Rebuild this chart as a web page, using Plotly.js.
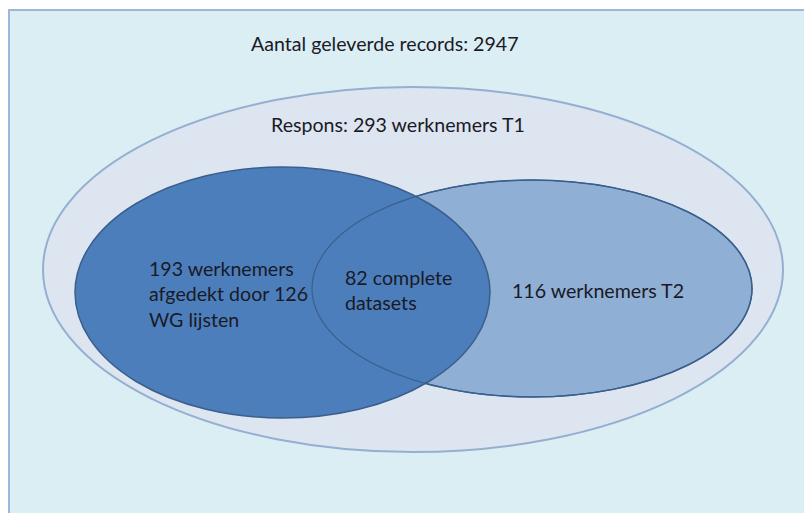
<!DOCTYPE html>
<html><head><meta charset="utf-8">
<script src="https://cdn.plot.ly/plotly-3.0.1.min.js"></script>
<style>html,body{margin:0;padding:0;background:#fff;}#chart{width:804px;height:513px;}</style>
</head><body><div id="chart"></div>
<script>
// Data values
const setNames = ["Aantal geleverde records", "Respons T1", "Werknemers T1 afgedekt", "WG lijsten", "Werknemers T2", "Complete datasets"];
const setCounts = [2947, 293, 193, 126, 116, 82];

const labels = [
  "Aantal geleverde records: " + setCounts[0],
  "Respons: " + setCounts[1] + " werknemers T1",
  setCounts[2] + " werknemers<br>afgedekt door " + setCounts[3] + "<br>WG lijsten",
  setCounts[5] + " complete<br>datasets",
  setCounts[4] + " werknemers T2"
];

const F = "Lato, 'Open Sans', sans-serif";
const txtColor = "#1a1a26";

const shapes = [
  {type:"rect", x0:9, x1:820, y0:10, y1:530, fillcolor:"#DBEEF4", line:{color:"#9DB6D9", width:2}, layer:"below"},
  {type:"circle", x0:43, x1:783, y0:87, y1:452, fillcolor:"#DDE5F1", line:{color:"#94AFD0", width:2}},
  {type:"circle", x0:312, x1:752, y0:180, y1:397, fillcolor:"#8FAFD5", line:{color:"#3A5F8C", width:1.5}},
  {type:"circle", x0:75, x1:490, y0:167, y1:418, fillcolor:"rgba(76,126,188,1)", line:{color:"#3A5F8C", width:1.5}},
  {type:"circle", x0:312, x1:752, y0:180, y1:397, fillcolor:"rgba(0,0,0,0)", line:{color:"#3A5F8C", width:1.2}}
];

const annotations = [
  {x:385, y:43, text:labels[0], xanchor:"center"},
  {x:398, y:124, text:labels[1], xanchor:"center"},
  {x:147, y:294, text:labels[2], xanchor:"left", align:"left"},
  {x:343, y:290, text:labels[3], xanchor:"left", align:"left"},
  {x:510, y:290, text:labels[4], xanchor:"left", align:"left"}
].map(a => Object.assign({xref:"x", yref:"y", yanchor:"middle", showarrow:false,
  font:{family:F, size:19.6, color:txtColor}}, a));

const layout = {
  width:804, height:513,
  margin:{l:0, r:0, t:0, b:0},
  paper_bgcolor:"#ffffff", plot_bgcolor:"#ffffff",
  xaxis:{range:[0,804], visible:false, fixedrange:true},
  yaxis:{range:[513,0], visible:false, fixedrange:true},
  showlegend:false,
  shapes:shapes,
  annotations:annotations
};

Plotly.newPlot("chart", [{x:[], y:[], type:"scatter", mode:"markers"}], layout, {displayModeBar:false, staticPlot:true});
</script>
</body></html>
